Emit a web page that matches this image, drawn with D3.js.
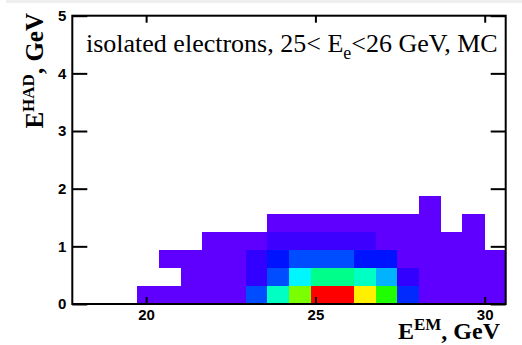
<!DOCTYPE html>
<html>
<head>
<meta charset="utf-8">
<script src="https://cdn.jsdelivr.net/npm/d3@7"></script>
<style>
  html, body { margin: 0; padding: 0; background: #ffffff; }
  svg { display: block; }
</style>
</head>
<body>
<svg id="chart" width="522" height="345"></svg>
<script>
// Histogram binning (E_EM on x, E_HAD on y), both in GeV
const xRange = [17.82, 30.62];
const nBinsX = 20;
const yRange = [0, 5];
const nBinsY = 16;

// Entries per cell, one array per E_HAD row, bottom row first
const row0 = [0, 0, 0, 2, 2, 2, 2, 2, 17, 38, 66, 100, 100, 79, 58, 14, 2, 2, 2, 2];
const row1 = [0, 0, 0, 0, 0, 2, 2, 2, 6, 17, 32, 43, 43, 38, 26, 6, 2, 2, 2, 2];
const row2 = [0, 0, 0, 0, 2, 2, 2, 2, 6, 12, 17, 17, 17, 12, 12, 2, 2, 2, 2, 2];
const row3 = [0, 0, 0, 0, 0, 0, 2, 2, 2, 5, 5, 5, 5, 5, 2, 2, 2, 2, 2, 0];
const row4 = [0, 0, 0, 0, 0, 0, 0, 0, 0, 2, 2, 2, 2, 2, 2, 2, 2, 0, 2, 0];
const row5 = [0, 0, 0, 0, 0, 0, 0, 0, 0, 0, 0, 0, 0, 0, 0, 0, 2, 0, 0, 0];
const rows = [row0, row1, row2, row3, row4, row5];

const xTicks = [20, 25, 30];
const yTicks = [0, 1, 2, 3, 4, 5];

const svg = d3.select("#chart");
const frameL = 72.3, frameR = 505.7, frameT = 15.7, frameB = 304;

const x = d3.scaleLinear().domain(xRange).range([frameL, frameR]);
const y = d3.scaleLinear().domain(yRange).range([frameB, frameT]);

const bw = (xRange[1] - xRange[0]) / nBinsX;
const bh = (yRange[1] - yRange[0]) / nBinsY;

// rainbow palette: violet for the fewest entries through to red for the most
const maxCount = d3.max(rows.flat());
const hue = d3.scaleLinear().domain([1, maxCount]).range([265, 0]);
const colour = v => d3.hsl(hue(v), 1, 0.5).formatHex();

// faint strip along the top edge
svg.append("rect").attr("x", 6).attr("y", 0).attr("width", 516).attr("height", 3)
  .attr("fill", "#eeeeee");

const cells = [];
rows.forEach((r, j) => r.forEach((v, i) => { if (v > 0) cells.push({ i, j, v }); }));

svg.append("g").attr("shape-rendering", "crispEdges")
  .selectAll("rect").data(cells).join("rect")
  .attr("x", d => x(xRange[0] + d.i * bw))
  .attr("width", d => x(xRange[0] + (d.i + 1) * bw) - x(xRange[0] + d.i * bw) + 0.5)
  .attr("y", d => y(yRange[0] + (d.j + 1) * bh))
  .attr("height", d => y(yRange[0] + d.j * bh) - y(yRange[0] + (d.j + 1) * bh) + 0.5)
  .attr("fill", d => colour(d.v));

// axes with inward ticks
const tickFont = "'Liberation Sans', Arial, sans-serif";
const fmt = d3.format("d");
function styleAxis(g) {
  g.select(".domain").remove();
  g.selectAll(".tick line").attr("stroke", "#000").attr("stroke-width", 2);
  g.selectAll(".tick text").attr("fill", "#000")
    .style("font-family", tickFont).style("font-weight", "bold").style("font-size", "15px");
}

svg.append("g").attr("transform", `translate(0,${frameB})`)
  .call(d3.axisBottom(x).tickValues(xTicks).tickFormat(fmt).tickSizeInner(-7).tickSizeOuter(0).tickPadding(5))
  .call(styleAxis);
svg.append("g").attr("transform", `translate(0,${frameT})`)
  .call(d3.axisTop(x).tickValues(xTicks).tickSizeInner(-7).tickSizeOuter(0).tickFormat(""))
  .call(styleAxis);
svg.append("g").attr("transform", `translate(${frameL},0)`)
  .call(d3.axisLeft(y).tickValues(yTicks).tickFormat(fmt).tickSizeInner(-15).tickSizeOuter(0).tickPadding(6))
  .call(styleAxis);
svg.append("g").attr("transform", `translate(${frameR},0)`)
  .call(d3.axisRight(y).tickValues(yTicks).tickSizeInner(-15).tickSizeOuter(0).tickFormat(""))
  .call(styleAxis);

// frame
svg.append("rect").attr("x", frameL).attr("y", frameT)
  .attr("width", frameR - frameL).attr("height", frameB - frameT)
  .attr("fill", "none").attr("stroke", "#000").attr("stroke-width", 2);

const serif = "'Liberation Serif', 'Times New Roman', serif";

// label inside the frame
const label = svg.append("text").attr("x", 86).attr("y", 52)
  .style("font-family", serif).style("font-size", "26px").attr("fill", "#000");
label.append("tspan").text("isolated electrons, 25< E");
label.append("tspan").attr("dy", 7).style("font-size", "18px").text("e");
label.append("tspan").attr("dy", -7).text("<26 GeV, MC");

// x axis title
const xt = svg.append("text").attr("x", 500).attr("y", 339).attr("text-anchor", "end")
  .style("font-family", serif).style("font-weight", "bold").style("font-size", "24px").attr("fill", "#000");
xt.append("tspan").text("E");
xt.append("tspan").attr("dy", -9).style("font-size", "17px").text("EM");
xt.append("tspan").attr("dy", 9).text(", GeV");

// y axis title
const yt = svg.append("text").attr("transform", "translate(43,13) rotate(-90)").attr("text-anchor", "end")
  .style("font-family", serif).style("font-weight", "bold").style("font-size", "25px").attr("fill", "#000");
yt.append("tspan").text("E");
yt.append("tspan").attr("dy", -9).style("font-size", "17px").text("HAD");
yt.append("tspan").attr("dy", 9).text(", GeV");
</script>
</body>
</html>
